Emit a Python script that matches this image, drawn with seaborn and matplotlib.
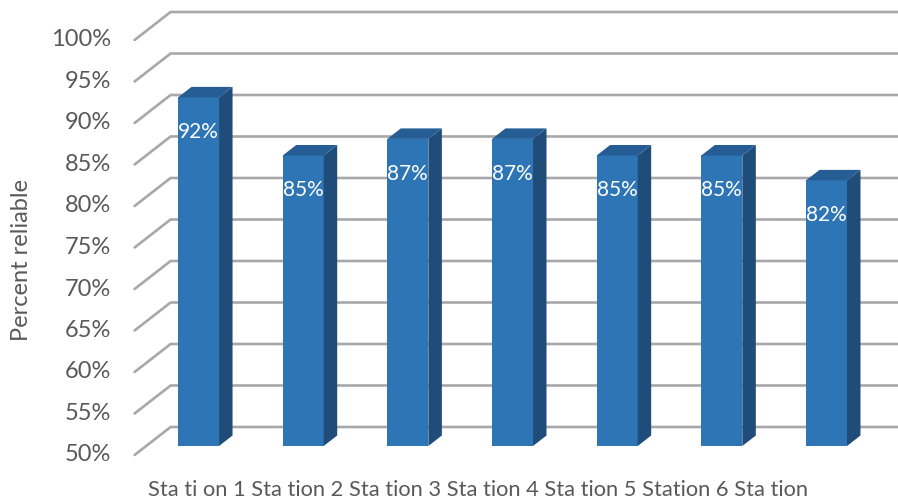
import numpy as np
import matplotlib
matplotlib.use("Agg")
import matplotlib.pyplot as plt
import matplotlib.transforms as mtransforms
from matplotlib.lines import Line2D
from matplotlib.patches import Polygon
import pandas as pd
import seaborn as sns

# ---- data -------------------------------------------------------------
stations = ["Sta ti on 1", "Sta tion 2", "Sta tion 3", "Sta tion 4",
            "Sta tion 5", "Station 6", "Sta tion"]
reliability = [92, 85, 87, 87, 85, 85, 82]
value_labels = [f"{v}%" for v in reliability]
y_ticks = [50, 55, 60, 65, 70, 75, 80, 85, 90, 95, 100]
y_tick_labels = [f"{t}%" for t in y_ticks]
y_title = "Percent reliable"

# ---- style ------------------------------------------------------------
sns.set_style("white")
plt.rcParams["font.family"] = ["Lato", "DejaVu Sans"]

FRONT = "#2E75B6"
SIDE = "#1F4C79"
TOP = "#255D94"
GRID = "#A8A8A8"
TEXT = "#595959"

W, H = 898, 499
fig = plt.figure(figsize=(W / 100, H / 100), dpi=100)
ax = fig.add_axes([146.2 / W, 53 / H, 732.6 / W, 415 / H])

df = pd.DataFrame({"station": stations, "reliability": reliability})
sns.barplot(data=df, x="station", y="reliability", order=stations,
            color=FRONT, saturation=1, width=0.392, ax=ax, zorder=3,
            linewidth=0, edgecolor="none")
ax.set_xlim(-0.5, 6.5)
ax.set_ylim(50, 100)
ax.axis("off")

px = ax.transData.transform
ident = mtransforms.IdentityTransform()

# pseudo-3D geometry in pixels: front plane, back wall and bar depth
FRONT_OFF = np.array([-11.6, -9.0])
BACK_OFF = np.array([24.4, 19.0])
DEPTH = np.array([13.5, 10.5])

# walls: diagonal side lines plus back-wall gridlines
for t, lab in zip(y_ticks, y_tick_labels):
    base = px((-0.5, t))
    front = base + FRONT_OFF
    back = base + BACK_OFF
    ax.add_line(Line2D([front[0], back[0], W + 10], [front[1], back[1], back[1]],
                       transform=ident, color=GRID, lw=1.9, clip_on=False,
                       zorder=1, solid_joinstyle="miter"))
    ax.text(front[0] - 23.5, front[1], lab, transform=ident, ha="right",
            va="center", fontsize=17, color=TEXT)

# side and top faces of each bar
for patch in ax.patches[:len(reliability)]:
    x0, w, v = patch.get_x(), patch.get_width(), patch.get_height()
    r_bot = px((x0 + w, 50))
    r_top = px((x0 + w, v))
    l_top = px((x0, v))
    side = [r_bot, r_top, r_top + DEPTH, r_bot + DEPTH]
    top = [l_top, r_top, r_top + DEPTH, l_top + DEPTH]
    ax.add_patch(Polygon(side, closed=True, transform=ident, facecolor=SIDE,
                         edgecolor="none", zorder=3, clip_on=False))
    ax.add_patch(Polygon(top, closed=True, transform=ident, facecolor=TOP,
                         edgecolor="none", zorder=3, clip_on=False))

# value labels inside the bars
label_tr = mtransforms.offset_copy(ax.transData, fig=fig, y=-35, units="dots")
for patch, lab in zip(ax.patches[:len(reliability)], value_labels):
    cx = patch.get_x() + patch.get_width() / 2
    ax.text(cx, patch.get_height(), lab, transform=label_tr, ha="center",
            va="center", fontsize=15, color="white", zorder=5)

# axis title
fig.text(22 / W, 1 - 260 / H, y_title, rotation=90, ha="center", va="center",
         fontsize=17, color=TEXT)

# category labels run along the bottom as one line
cat_text = fig.text(148 / W, 3.5 / H, " ".join(stations), ha="left",
                    va="baseline", fontsize=13, color=TEXT)
fig.canvas.draw()
bb = cat_text.get_window_extent()
cat_text.set_fontsize(13 * 659 / bb.width)

fig.savefig("out.png", dpi=100)
